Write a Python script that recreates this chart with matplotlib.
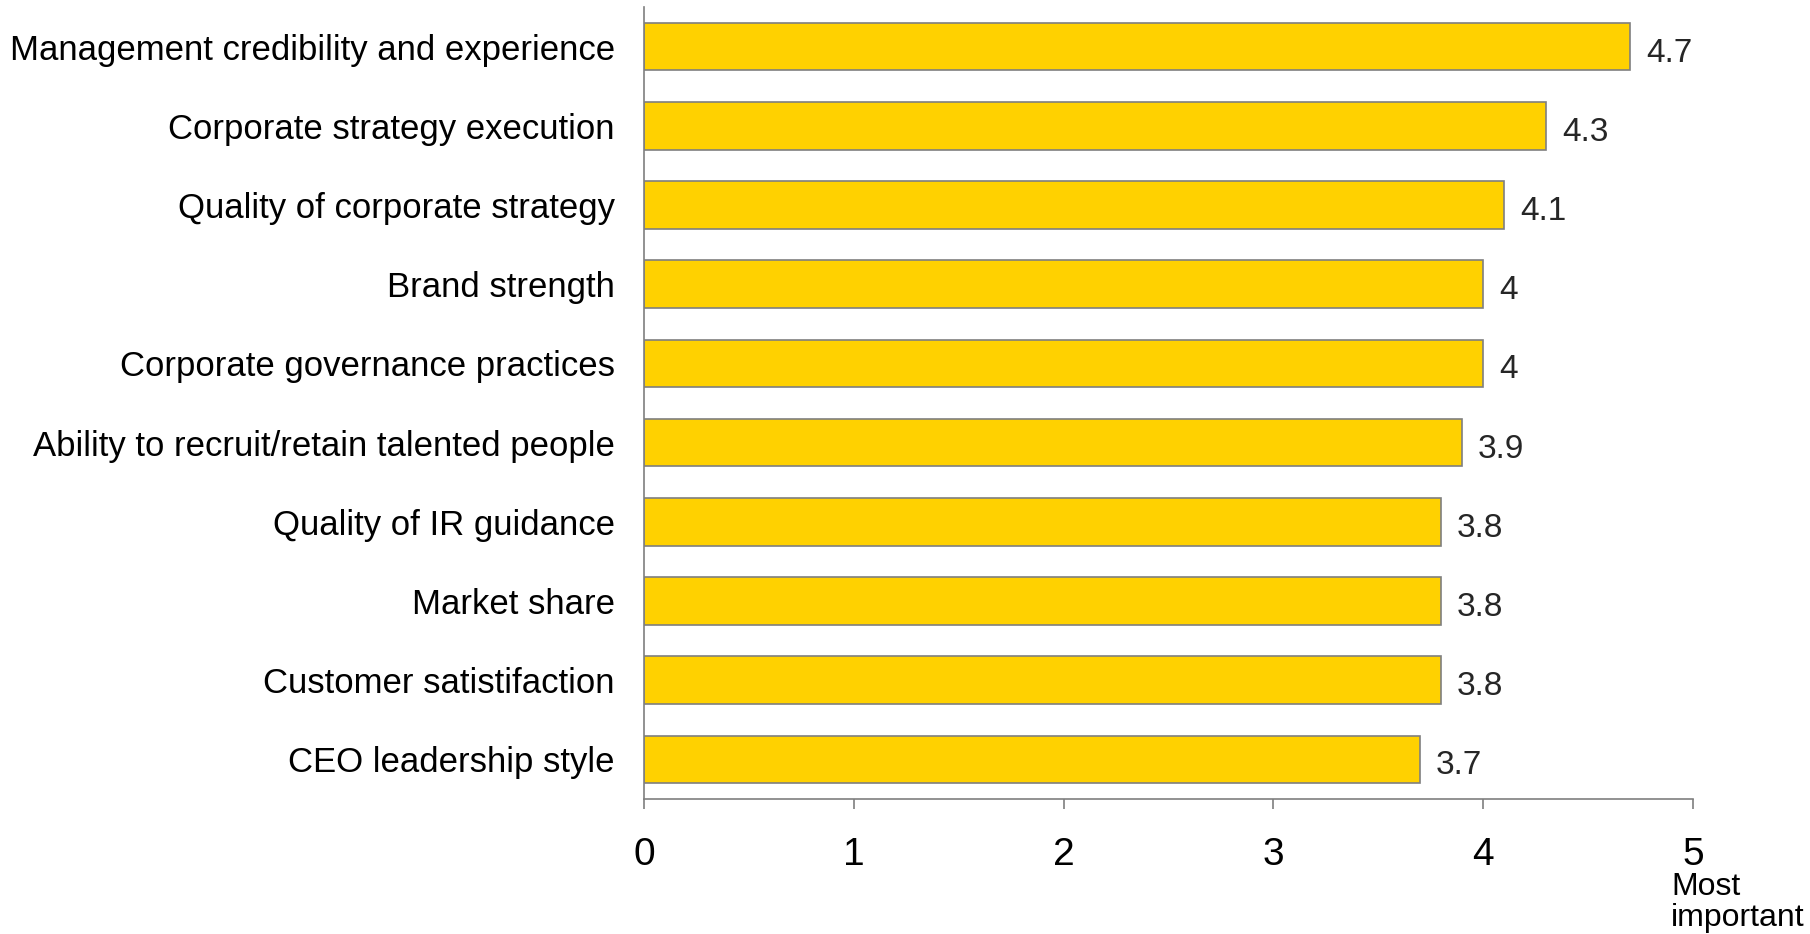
import numpy as np
import matplotlib
matplotlib.use('Agg')
import matplotlib.pyplot as plt

plt.rcParams['font.family'] = ['Liberation Sans', 'DejaVu Sans']

# 数据
categories = ['Management credibility and experience',
              'Corporate strategy execution',
              'Quality of corporate strategy',
              'Brand strength',
              'Corporate governance practices',
              'Ability to recruit/retain talented people',
              'Quality of IR guidance',
              'Market share',
              'Customer satistifaction',
              'CEO leadership style']
values = [4.7, 4.3, 4.1, 4.0, 4.0, 3.9, 3.8, 3.8, 3.8, 3.7]
value_labels = ['4.7', '4.3', '4.1', '4', '4', '3.9', '3.8', '3.8', '3.8', '3.7']
xticks = [0, 1, 2, 3, 4, 5]

fig = plt.figure(figsize=(18.1, 9.34), dpi=100)
ax = fig.add_axes([644 / 1810, 1 - 799 / 934, (1693 - 644) / 1810, (799 - 7) / 934])

y = np.arange(len(categories))
ax.barh(y, values, height=0.6, color='#FFD100', edgecolor='#7f7f7f', linewidth=1.2)

# 数值标签
for yi, v, t in zip(y, values, value_labels):
    ax.text(v + 0.075, yi + 0.19, t, va='baseline', ha='left', fontsize=24, color='#262626')

ax.set_ylim(len(categories) - 0.5, -0.5)
ax.set_xlim(0, 5)
ax.set_yticks(y)
ax.set_yticklabels(categories, fontsize=25)
ax.set_xticks(xticks)
ax.set_xticklabels([str(t) for t in xticks], fontsize=28)

ax.tick_params(axis='y', length=0, pad=21)
ax.tick_params(axis='x', length=7.2, width=1.2, color='#7f7f7f', pad=20)

for s in ['top', 'right']:
    ax.spines[s].set_visible(False)
for s in ['left', 'bottom']:
    ax.spines[s].set_color('#7f7f7f')
    ax.spines[s].set_linewidth(1.2)

fig.text(1671 / 1810, 1 - 872 / 934, 'Most\nimportant', fontsize=23,
         ha='left', va='top', linespacing=1.05)

plt.savefig('out.png', dpi=100)
